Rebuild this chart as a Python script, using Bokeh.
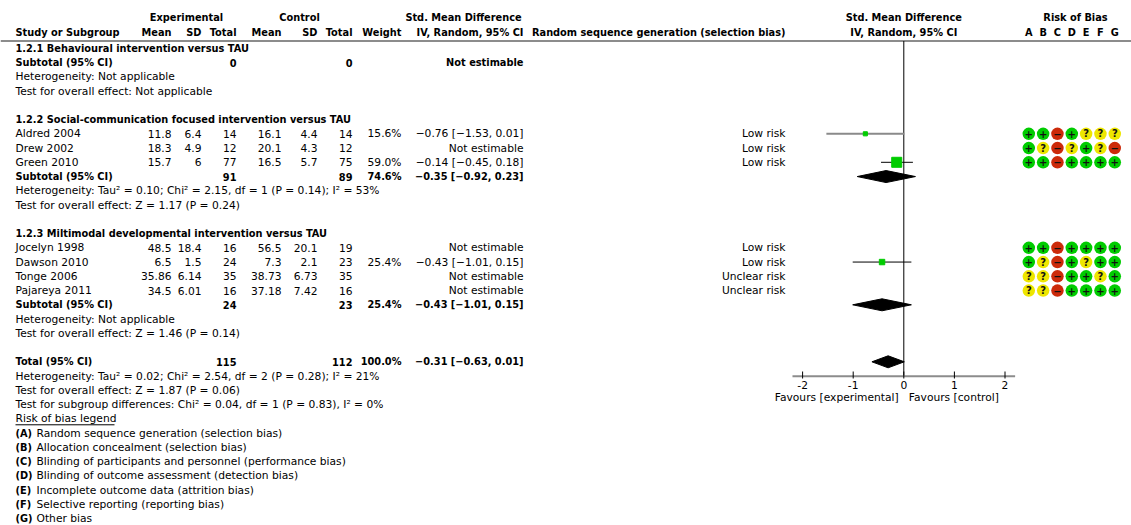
from bokeh.plotting import figure
from bokeh.models import Range1d, ColumnDataSource
from bokeh.core.properties import value
from bokeh.embed import file_html
from bokeh.resources import INLINE

# ---------------- data ----------------
study = ["Aldred 2004", "Drew 2002", "Green 2010", "Jocelyn 1998",
         "Dawson  2010", "Tonge 2006", "Pajareya 2011"]
study_row = [7, 8, 9, 15, 16, 17, 18]
exp_mean = ["11.8", "18.3", "15.7", "48.5", "6.5", "35.86", "34.5"]
exp_sd = ["6.4", "4.9", "6", "18.4", "1.5", "6.14", "6.01"]
exp_n = [14, 12, 77, 16, 24, 35, 16]
ctl_mean = ["16.1", "20.1", "16.5", "56.5", "7.3", "38.73", "37.18"]
ctl_sd = ["4.4", "4.3", "5.7", "20.1", "2.1", "6.73", "7.42"]
ctl_n = [14, 12, 75, 19, 23, 35, 16]
weight = [15.6, None, 59.0, None, 25.4, None, None]
smd = [-0.76, None, -0.14, None, -0.43, None, None]
ci_lo = [-1.53, None, -0.45, None, -1.01, None, None]
ci_hi = [0.01, None, 0.18, None, 0.15, None, None]
rsg_judgement = ["Low risk", "Low risk", "Low risk", "Low risk",
                 "Low risk", "Unclear risk", "Unclear risk"]
rob_domains = ["A", "B", "C", "D", "E", "F", "G"]
rob = [
    ["+", "+", "-", "+", "?", "?", "?"],
    ["+", "?", "-", "?", "+", "?", "-"],
    ["+", "+", "-", "+", "+", "+", "+"],
    ["+", "+", "-", "+", "+", "+", "+"],
    ["+", "?", "-", "+", "?", "+", "+"],
    ["?", "?", "-", "+", "+", "?", "+"],
    ["?", "?", "-", "+", "+", "+", "+"],
]

sub_label = ["1.2.1 Behavioural intervention versus TAU",
             "1.2.2 Social-communication focused intervention versus TAU",
             "1.2.3 Miltimodal developmental intervention versus TAU"]
sub_head_row = [1, 6, 14]
sub_tot_row = [2, 10, 19]
sub_exp_n = [0, 91, 24]
sub_ctl_n = [0, 89, 23]
sub_weight = [None, 74.6, 25.4]
sub_smd = [None, -0.35, -0.43]
sub_lo = [None, -0.92, -1.01]
sub_hi = [None, 0.23, 0.15]
sub_het = ["Heterogeneity: Not applicable",
           "Heterogeneity: Tau² = 0.10; Chi² = 2.15, df = 1 (P = 0.14); I² = 53%",
           "Heterogeneity: Not applicable"]
sub_test = ["Test for overall effect: Not applicable",
            "Test for overall effect: Z = 1.17 (P = 0.24)",
            "Test for overall effect: Z = 1.46 (P = 0.14)"]

total_row = 23
total_exp_n = 115
total_ctl_n = 112
total_weight = 100.0
total_smd = -0.31
total_lo = -0.63
total_hi = 0.01
total_notes = ["Heterogeneity: Tau² = 0.02; Chi² = 2.54, df = 2 (P = 0.28); I² = 21%",
               "Test for overall effect: Z = 1.87 (P = 0.06)",
               "Test for subgroup differences: Chi² = 0.04, df = 1 (P = 0.83), I² = 0%"]
legend_title = "Risk of bias legend"
legend_items = ["Random sequence generation (selection bias)",
                "Allocation concealment (selection bias)",
                "Blinding of participants and personnel (performance bias)",
                "Blinding of outcome assessment (detection bias)",
                "Incomplete outcome data (attrition bias)",
                "Selective reporting (reporting bias)",
                "Other bias"]
axis_ticks = [-2, -1, 0, 1, 2]
axis_tick_labels = ["-2", "-1", "0", "1", "2"]
favours_left = "Favours [experimental]"
favours_right = "Favours [control]"

# ---------------- layout ----------------
W, H = 1131, 525
PITCH = 14.25
ROW1_PX = 47.8
def row_of(px):
    return 1 + (px - ROW1_PX) / PITCH

ZERO_PX = 903.3
UNIT_PX = 50.6
FONT = value("DejaVu Sans")
FS = "10.7px"
FSB = "9.8px"

p = figure(width=W, height=H, x_range=Range1d(0, W),
           y_range=Range1d(row_of(H), row_of(0)),
           x_axis_type=None, y_axis_type=None,
           output_backend="svg", toolbar_location=None, min_border=0)
p.outline_line_color = None
p.grid.visible = False
p.background_fill_color = "white"
p.extra_x_ranges = {"smd": Range1d(-ZERO_PX / UNIT_PX, (W - ZERO_PX) / UNIT_PX)}

X0 = 15
COL = dict(exp_mean=171, exp_sd=201, exp_n=236, ctl_mean=281, ctl_sd=317,
           ctl_n=352, weight=401, ci=523, rsg=785)

texts = {}
def add(x, row, t, align="left", bold=False, color="black", rng=None):
    key = (align, bold, color, rng)
    d = texts.setdefault(key, dict(x=[], y=[], t=[]))
    d["x"].append(x); d["y"].append(row); d["t"].append(t)

def fmt(v):
    return f"{v:.2f}".replace("-", "−")
def ci_text(m, lo, hi):
    return f"{fmt(m)} [{fmt(lo)}, {fmt(hi)}]"

# header
HR1, HR2 = row_of(16.5), row_of(32)
add(186, HR1, "Experimental", "center", True)
add(299, HR1, "Control", "center", True)
add(463, HR1, "Std. Mean Difference", "center", True)
add(ZERO_PX, HR1, "Std. Mean Difference", "center", True)
add(1075, HR1, "Risk of Bias", "center", True)
add(X0, HR2, "Study or Subgroup", "left", True)
for k, t in [("exp_mean", "Mean"), ("exp_sd", "SD"), ("exp_n", "Total"),
             ("ctl_mean", "Mean"), ("ctl_sd", "SD"), ("ctl_n", "Total"),
             ("weight", "Weight"), ("ci", "IV, Random, 95% CI"),
             ("rsg", "Random sequence generation (selection bias)")]:
    add(COL[k], HR2, t, "right", True)
add(ZERO_PX, HR2, "IV, Random, 95% CI", "center", True)
ROB_X0, ROB_DX = 1028.3, 14.33
rob_x = [ROB_X0 + i * ROB_DX for i in range(len(rob_domains))]
for xx, d in zip(rob_x, rob_domains):
    add(xx, HR2, d, "center", True)

# subgroups
for i in range(3):
    add(X0, sub_head_row[i], sub_label[i], "left", True)
    r = sub_tot_row[i]
    add(X0, r, "Subtotal (95% CI)", "left", True)
    add(COL["exp_n"], r, str(sub_exp_n[i]), "right", True)
    add(COL["ctl_n"], r, str(sub_ctl_n[i]), "right", True)
    if sub_weight[i] is not None:
        add(COL["weight"], r, f"{sub_weight[i]:.1f}%", "right", True)
        add(COL["ci"], r, ci_text(sub_smd[i], sub_lo[i], sub_hi[i]), "right", True)
    else:
        add(COL["ci"], r, "Not estimable", "right", True)
    add(X0, r + 1, sub_het[i])
    add(X0, r + 2, sub_test[i])

# studies
for i, r in enumerate(study_row):
    add(X0, r, study[i])
    add(COL["exp_mean"], r, exp_mean[i], "right")
    add(COL["exp_sd"], r, exp_sd[i], "right")
    add(COL["exp_n"], r, str(exp_n[i]), "right")
    add(COL["ctl_mean"], r, ctl_mean[i], "right")
    add(COL["ctl_sd"], r, ctl_sd[i], "right")
    add(COL["ctl_n"], r, str(ctl_n[i]), "right")
    if weight[i] is not None:
        add(COL["weight"], r, f"{weight[i]:.1f}%", "right")
        add(COL["ci"], r, ci_text(smd[i], ci_lo[i], ci_hi[i]), "right")
    else:
        add(COL["ci"], r, "Not estimable", "right")
    add(COL["rsg"], r, rsg_judgement[i], "right")

# total
add(X0, total_row, "Total (95% CI)", "left", True)
add(COL["exp_n"], total_row, str(total_exp_n), "right", True)
add(COL["ctl_n"], total_row, str(total_ctl_n), "right", True)
add(COL["weight"], total_row, f"{total_weight:.1f}%", "right", True)
add(COL["ci"], total_row, ci_text(total_smd, total_lo, total_hi), "right", True)
for j, t in enumerate(total_notes):
    add(X0, total_row + 1 + j, t)
leg_row = total_row + 1 + len(total_notes)
add(X0, leg_row, legend_title)
for j, (d, t) in enumerate(zip(rob_domains, legend_items)):
    add(X0, leg_row + 1 + j, f"({d})", "left", True)
    add(X0 + 21, leg_row + 1 + j, t)

# forest axis labels
AX_ROW = row_of(375.7)
for tv, tl in zip(axis_ticks, axis_tick_labels):
    add(tv, row_of(384.5), tl, "center", False, "black", "smd")
add(-0.1, row_of(396.7), favours_left, "right", False, "black", "smd")
add(0.1, row_of(396.7), favours_right, "left", False, "black", "smd")

# ---------------- graphics ----------------
HEAD_LINE_ROW = row_of(40.5)
p.segment(x0=[0], x1=[W], y0=[HEAD_LINE_ROW], y1=[HEAD_LINE_ROW],
          line_color="#8c8c8c", line_width=2)
p.segment(x0=[0], x1=[0], y0=[HEAD_LINE_ROW], y1=[AX_ROW],
          line_color="black", line_width=1, x_range_name="smd")
p.segment(x0=[axis_ticks[0] - 0.2], x1=[axis_ticks[-1] + 0.2], y0=[AX_ROW], y1=[AX_ROW],
          line_color="#8c8c8c", line_width=2, x_range_name="smd")
p.segment(x0=axis_ticks, x1=axis_ticks, y0=[row_of(371)] * 5, y1=[row_of(378)] * 5,
          line_color="black", line_width=1, x_range_name="smd")

# study CIs and squares
est = [(smd[i], ci_lo[i], ci_hi[i], weight[i], study_row[i]) for i in range(len(study)) if smd[i] is not None]
ci_src = ColumnDataSource(dict(
    lo=[e[1] for e in est], hi=[e[2] for e in est], y=[e[4] for e in est],
    m=[e[0] for e in est], size=[2 + 0.136 * e[3] for e in est],
    col=["#8a8a8a" if e[3] < 20 else "black" for e in est],
    lw=[2 if e[3] < 20 else 1 for e in est]))
p.segment(x0="lo", x1="hi", y0="y", y1="y", line_color="col", line_width="lw",
          source=ci_src, x_range_name="smd")
p.scatter(x="m", y="y", size="size", marker="square", fill_color="#00cc00",
          line_color="#00cc00", source=ci_src, x_range_name="smd")

# diamonds
DH = 6 / PITCH
dx, dy = [], []
for m, lo, hi, r in [(sub_smd[i], sub_lo[i], sub_hi[i], sub_tot_row[i]) for i in range(3) if sub_smd[i] is not None] + \
        [(total_smd, total_lo, total_hi, total_row)]:
    dx.append([lo, m, hi, m]); dy.append([r, r - DH, r, r + DH])
p.patches(xs=dx, ys=dy, fill_color="black", line_color="black", x_range_name="smd")

# risk of bias circles
ROB_COL = {"+": "#00cc00", "?": "#eee600", "-": "#cc2a0a"}
cx, cy, cc, ct = [], [], [], []
for i, r in enumerate(study_row):
    for j, v in enumerate(rob[i]):
        cx.append(rob_x[j]); cy.append(r); cc.append(ROB_COL[v]); ct.append("−" if v == "-" else v)
rob_src = ColumnDataSource(dict(x=cx, y=cy, c=cc, t=ct))
p.scatter(x="x", y="y", size=12.5, marker="circle", fill_color="c", line_color=None, source=rob_src)
p.text(x="x", y="y", text="t", source=rob_src, text_align="center", text_baseline="middle",
       text_font=FONT, text_font_size="10px", text_font_style="bold", text_color="#111111")

# texts
for (align, bold, color, rng), d in texts.items():
    kw = {}
    if rng:
        kw["x_range_name"] = rng
    p.text(x=d["x"], y=d["y"], text=d["t"], text_align=align, text_baseline="middle",
           text_font=FONT, text_font_size=FSB if bold else FS,
           text_font_style="bold" if bold else "normal",
           text_color=color, **kw)

# underline legend title
p.segment(x0=[X0], x1=[X0 + 99], y0=[leg_row + 0.42], y1=[leg_row + 0.42],
          line_color="black", line_width=1)

open("out.html", "w").write(file_html(p, INLINE))
